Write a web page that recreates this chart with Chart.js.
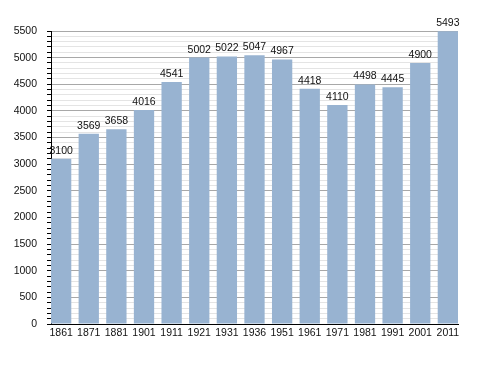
<!DOCTYPE html>
<html>
<head>
<meta charset="utf-8">
<script src="https://cdn.jsdelivr.net/npm/chart.js@4"></script>
<style>
  body { margin: 0; background: #fff; }
</style>
</head>
<body>
<canvas id="chart" width="488" height="373"></canvas>
<script>
const YEARS = ['1861', '1871', '1881', '1901', '1911', '1921', '1931', '1936', '1951', '1961', '1971', '1981', '1991', '2001', '2011']
const POPULATION = [3100, 3569, 3658, 4016, 4541, 5002, 5022, 5047, 4967, 4418, 4110, 4498, 4445, 4900, 5493]
const Y_MAX = 5500
const Y_STEP = 100
const Y_LABEL_STEP = 500

const BAR_COLOR = '#98b3d1'
const MAJOR_GRID = '#a8a8a8'
const MINOR_GRID = '#e4e4e4'

// value printed above every bar
const valueLabels = {
    id: 'valueLabels',
    afterDatasetsDraw(chart) {
        const ctx = chart.ctx;
        const meta = chart.getDatasetMeta(0);
        ctx.save();
        ctx.font = '10.5px "Liberation Sans", Arial, sans-serif';
        ctx.fillStyle = '#111';
        ctx.textAlign = 'center';
        ctx.textBaseline = 'alphabetic';
        meta.data.forEach((bar, i) => {
            ctx.fillText(String(POPULATION[i]), bar.x, bar.y - 5);
        });
        ctx.restore();
    }
};

const half = 0.367;

new Chart(document.getElementById('chart'), {
    type: 'bar',
    data: {
        datasets: [{
            data: POPULATION.map((v, i) => ({ x: i, y: v })),
            backgroundColor: BAR_COLOR,
            borderWidth: 0,
            barPercentage: 0.735,
            categoryPercentage: 1
        }]
    },
    options: {
        responsive: false,
        animation: false,
        layout: { padding: { left: 0, top: 31, right: 30, bottom: 29 } },
        plugins: {
            legend: { display: false },
            tooltip: { enabled: false }
        },
        scales: {
            x: {
                type: 'linear',
                offset: false,
                min: -half,
                max: YEARS.length - 1 + half,
                afterBuildTicks: (scale) => {
                    scale.ticks = YEARS.map((_, i) => ({ value: i }));
                },
                afterFit: (scale) => { scale.height = 20; },
                grid: { display: false, drawTicks: false },
                border: { display: true, color: '#000', width: 1 },
                ticks: {
                    padding: 3,
                    color: '#111',
                    autoSkip: false,
                    maxRotation: 0,
                    font: { family: '"Liberation Sans", Arial, sans-serif', size: 10.5 },
                    callback: (v) => YEARS[v]
                }
            },
            y: {
                min: 0,
                max: Y_MAX,
                afterFit: (scale) => { scale.width = 51; },
                grid: {
                    color: (c) => (c.tick && c.tick.value % Y_LABEL_STEP === 0) ? MAJOR_GRID : MINOR_GRID,
                    tickColor: '#000',
                    tickLength: 4,
                    lineWidth: 1
                },
                border: { display: true, color: '#000', width: 1 },
                ticks: {
                    stepSize: Y_STEP,
                    maxTicksLimit: 100,
                    autoSkip: false,
                    padding: 10,
                    color: '#111',
                    font: { family: '"Liberation Sans", Arial, sans-serif', size: 10.5 },
                    callback: (v) => v % Y_LABEL_STEP === 0 ? String(v) : ''
                }
            }
        }
    },
    plugins: [valueLabels]
});
</script>
</body>
</html>
